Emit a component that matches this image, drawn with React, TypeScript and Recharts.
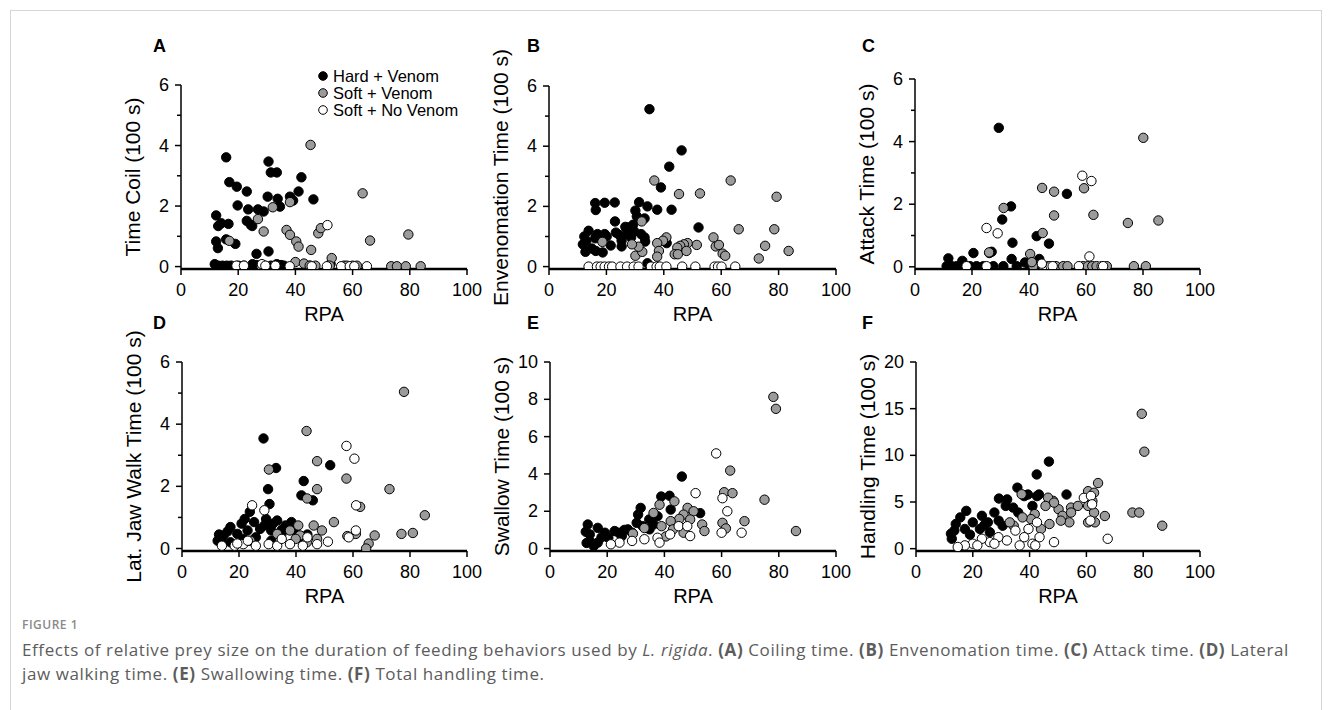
import React from 'react';
import { ScatterChart, Scatter, XAxis, YAxis } from 'recharts';

// values, [RPA, time (100 s)]
const coilHard = [
  [15.8, 3.61], [16.9, 2.79], [19.5, 2.64], [23.0, 2.48], [19.8, 2.02], [12.3, 1.69], [13.0, 1.34], [14.1, 1.43],
  [16.6, 1.41], [12.3, 0.83], [12.9, 0.61], [15.8, 0.9], [19.0, 0.75], [23.0, 1.51], [23.5, 1.89], [24.4, 1.38],
  [24.9, 1.34], [26.4, 0.42], [26.9, 1.89], [28.9, 1.82], [30.6, 3.47], [31.4, 3.11], [33.5, 3.11], [30.3, 2.31],
  [30.6, 0.5], [33.8, 2.24], [34.6, 1.98], [38.1, 2.31], [39.2, 2.18], [41.1, 2.48], [42.1, 2.95], [46.3, 2.22],
  [52.3, 0.09], [11.8, 0.08], [13.0, 0.03], [14.5, 0.03], [16.0, 0.03], [17.5, 0.03], [20.0, 0.03], [22.0, 0.03],
  [25.0, 0.08], [26.5, 0.05], [29.0, 0.03], [31.5, 0.03], [33.5, 0.08], [35.0, 0.05], [36.0, 0.03], [45.0, 0.03],
];
const coilSoft = [
  [45.3, 4.02], [63.5, 2.42], [32.1, 1.96], [38.1, 2.13], [26.9, 1.57], [28.9, 1.16], [36.9, 1.21], [38.1, 1.05],
  [40.3, 0.83], [41.1, 0.66], [45.5, 0.55], [48.0, 1.1], [48.9, 1.27], [52.7, 0.28], [66.1, 0.86], [79.5, 1.06],
  [16.9, 0.85], [28.0, 0.03], [40.0, 0.15], [43.0, 0.1], [45.0, 0.03], [47.0, 0.03], [52.0, 0.03], [57.0, 0.03],
  [58.0, 0.03], [60.0, 0.03], [61.5, 0.03], [73.5, 0.01], [75.5, 0.01], [78.6, 0.01], [83.8, 0.01],
];
const coilNoVenom = [
  [51.2, 1.37], [19.4, 0.03], [22.0, 0.03], [28.3, 0.08], [29.5, 0.03], [33.0, 0.03], [38.0, 0.01], [45.7, 0.01],
  [51.0, 0.01], [56.0, 0.01], [59.0, 0.01], [60.6, 0.01], [65.0, 0.01],
];

const envHard = [
  [35.0, 5.23], [46.2, 3.86], [41.9, 3.32], [39.0, 2.63], [37.7, 1.89], [42.7, 1.89], [34.3, 2.0], [31.4, 2.14],
  [30.1, 1.86], [30.6, 1.67], [33.3, 1.6], [22.9, 2.13], [19.4, 2.12], [16.1, 2.11], [16.3, 1.88], [23.0, 1.5],
  [23.3, 1.13], [16.9, 1.08], [19.4, 1.08], [20.1, 1.0], [13.8, 1.19], [12.3, 1.0], [11.8, 0.74], [12.7, 0.49],
  [14.9, 0.6], [16.3, 0.52], [18.7, 0.47], [16.1, 0.94], [25.3, 0.86], [25.3, 0.67], [26.6, 1.32], [27.8, 1.3],
  [29.3, 1.39], [29.7, 1.17], [27.2, 1.08], [28.6, 0.97], [32.1, 1.08], [33.3, 0.97], [33.5, 0.83], [41.0, 0.78],
  [52.1, 1.3], [34.3, 0.11], [24.5, 1.05], [21.5, 0.7], [13.0, 0.85],
];
const envSoft = [
  [36.7, 2.86], [45.3, 2.41], [52.6, 2.43], [63.3, 2.86], [79.3, 2.32], [66.1, 1.24], [78.5, 1.24], [75.3, 0.69],
  [83.5, 0.52], [73.1, 0.27], [57.3, 0.97], [58.1, 0.67], [59.2, 0.72], [60.5, 0.43], [61.4, 0.36], [51.5, 0.72],
  [48.3, 0.78], [47.0, 0.74], [45.7, 0.69], [44.7, 0.63], [43.8, 0.41], [44.9, 0.41], [47.9, 0.52], [40.9, 0.97],
  [39.7, 0.86], [37.7, 0.78], [38.3, 0.52], [37.7, 0.33], [30.1, 0.36], [32.5, 0.49], [31.2, 0.66], [18.6, 0.82],
  [32.3, 1.5], [28.9, 0.74],
];
const envNoVenom = [
  [13.8, 0], [16.7, 0], [18.0, 0], [19.4, 0], [20.9, 0], [22.0, 0], [24.9, 0], [27.2, 0], [29.5, 0], [31.2, 0],
  [35.5, 0], [37.5, 0], [38.6, 0], [40.9, 0], [46.4, 0], [51.0, 0], [57.7, 0], [58.9, 0], [60.1, 0], [64.9, 0],
];

const atkHard = [
  [29.4, 4.44], [33.7, 1.93], [30.6, 1.51], [53.3, 2.33], [34.2, 0.77], [42.7, 0.98], [47.0, 0.74], [26.9, 0.48],
  [26.1, 0.44], [20.5, 0.44], [11.7, 0.27], [16.6, 0.19], [33.9, 0.25], [43.6, 0.25], [38.6, 0.14], [11.1, 0.02],
  [12.9, 0.02], [14.6, 0.02], [17.0, 0.02], [19.3, 0.02], [21.6, 0.02], [24.0, 0.02], [27.5, 0.02], [31.0, 0.02],
  [35.7, 0.02], [40.4, 0.02], [43.9, 0.02],
];
const atkSoft = [
  [80.1, 4.12], [44.6, 2.52], [48.8, 2.4], [59.3, 2.51], [62.6, 1.66], [48.8, 1.64], [74.7, 1.4], [85.4, 1.48],
  [31.1, 1.88], [44.8, 1.08], [40.4, 0.41], [26.0, 0.46], [41.5, 0.02], [46.8, 0.02], [49.5, 0.02], [52.0, 0.02],
  [53.5, 0.02], [59.0, 0.02], [60.6, 0.02], [62.2, 0.02], [63.7, 0.02], [67.3, 0.02], [76.8, 0.02], [81.0, 0.02],
  [41.0, 0.15],
];
const atkNoVenom = [
  [58.7, 2.91], [61.9, 2.74], [25.1, 1.24], [29.0, 1.07], [61.2, 0.33], [18.1, 0.02], [25.1, 0.02], [45.0, 0.02],
  [47.6, 0.02], [48.3, 0.02], [57.5, 0.02], [65.5, 0.02], [66.0, 0.02], [44.5, 0.1],
];

const jawHard = [
  [28.6, 3.54], [52.0, 2.68], [33.0, 2.59], [42.7, 2.17], [30.2, 1.91], [41.9, 1.71], [45.9, 1.55], [30.7, 1.43],
  [23.8, 1.18], [12.5, 0.25], [14.6, 0.42], [17.0, 0.69], [19.4, 0.47], [20.9, 0.8], [23.0, 0.58], [25.3, 0.85],
  [27.4, 0.63], [31.3, 0.58], [33.4, 0.9], [36.3, 0.74], [38.4, 0.85], [39.4, 0.58], [34.9, 0.47], [41.4, 0.36],
  [31.3, 0.25], [25.9, 0.36], [17.0, 0.2], [21.5, 0.31], [14.0, 0.2], [28.9, 0.74], [31.9, 0.8], [13.0, 0.45],
  [16.0, 0.55], [22.0, 0.95], [35.0, 0.6], [29.5, 0.95], [44.0, 0.45],
];
const jawSoft = [
  [77.9, 5.04], [43.7, 3.78], [47.4, 2.81], [30.5, 2.54], [57.7, 2.25], [47.4, 1.91], [72.8, 1.91], [43.9, 1.61],
  [62.5, 1.34], [85.2, 1.07], [77.0, 0.47], [81.0, 0.5], [53.3, 0.85], [61.0, 0.47], [67.6, 0.42], [65.5, 0.16],
  [64.6, 0.0], [46.2, 0.74], [49.1, 0.58], [47.4, 0.31], [41.4, 0.42], [37.9, 0.58], [40.8, 0.74], [39.9, 0.31],
  [43.8, 0.2], [33.4, 0.47], [24.0, 0.25], [58.0, 0.4],
];
const jawNoVenom = [
  [57.7, 3.3], [60.5, 2.89], [24.6, 1.39], [61.1, 1.39], [28.9, 1.23], [61.0, 0.58], [58.5, 0.36], [51.2, 0.22],
  [47.4, 0.14], [14.0, 0.09], [18.5, 0.09], [21.5, 0.14], [25.9, 0.09], [30.4, 0.14], [33.4, 0.09], [37.9, 0.14],
  [42.4, 0.09], [23.1, 0.25], [35.0, 0.31], [44.0, 0.36], [19.4, 0.16],
];

const swHard = [
  [46.1, 3.86], [38.9, 2.79], [41.8, 2.83], [31.7, 2.18], [30.8, 1.82], [34.7, 1.56], [42.2, 2.09], [37.6, 1.73],
  [36.2, 1.29], [30.3, 1.38], [27.2, 1.03], [22.6, 0.94], [19.2, 0.85], [16.7, 1.11], [13.9, 0.76], [13.2, 1.29],
  [13.9, 0.41], [16.7, 0.32], [20.4, 0.58], [25.1, 0.67], [28.7, 0.85], [32.4, 1.2], [34.8, 1.03], [15.3, 0.14],
  [12.5, 0.9], [12.8, 0.3], [18.0, 0.6], [24.0, 0.85], [26.0, 1.0], [52.5, 1.9],
];
const swSoft = [
  [78.1, 8.13], [79.0, 7.49], [63.0, 4.18], [60.9, 3.02], [75.0, 2.62], [63.8, 2.97], [38.3, 2.35], [43.5, 2.53],
  [48.1, 2.18], [50.2, 2.0], [46.7, 1.82], [49.0, 1.56], [53.2, 1.29], [54.0, 0.94], [45.2, 1.59], [42.2, 1.47],
  [39.0, 1.2], [43.0, 1.03], [46.7, 0.85], [60.3, 1.38], [61.5, 1.08], [68.0, 1.47], [86.0, 0.94], [36.2, 1.91],
  [33.0, 1.1], [29.0, 0.8], [40.5, 0.65],
];
const swNoVenom = [
  [58.1, 5.1], [50.9, 2.97], [60.3, 2.7], [62.0, 2.0], [67.0, 0.85], [60.0, 0.85], [49.0, 0.67], [45.0, 1.2],
  [42.0, 0.76], [37.6, 0.58], [38.3, 0.32], [33.0, 0.5], [28.7, 0.41], [24.3, 0.32], [21.3, 0.23], [48.0, 1.2],
];

const hdHard = [
  [46.8, 9.33], [42.5, 7.95], [35.7, 6.54], [39.4, 5.8], [43.3, 5.8], [53.0, 5.8], [29.2, 5.37], [17.7, 4.05],
  [15.6, 3.35], [14.0, 2.64], [13.5, 1.94], [12.6, 1.06], [17.2, 2.11], [20.0, 2.82], [23.2, 3.52], [25.3, 2.82],
  [27.6, 3.87], [29.1, 3.0], [31.6, 4.58], [32.1, 5.28], [34.2, 4.4], [36.0, 3.87], [30.5, 2.46], [22.5, 2.11],
  [26.0, 1.76], [42.6, 5.63], [41.0, 4.58], [38.1, 5.63], [12.3, 1.6], [19.0, 1.5], [24.0, 2.5],
];
const hdSoft = [
  [79.5, 14.45], [80.4, 10.39], [64.1, 7.03], [37.2, 5.83], [48.3, 5.12], [62.1, 5.09], [54.6, 4.4], [50.2, 4.23],
  [46.5, 5.46], [48.6, 4.93], [51.6, 3.52], [54.6, 3.87], [60.6, 6.16], [62.7, 5.99], [60.6, 4.58], [62.7, 3.87],
  [66.5, 3.5], [76.2, 3.87], [78.6, 3.87], [86.7, 2.46], [60.6, 2.82], [63.0, 2.82], [57.0, 4.58], [54.0, 2.82],
  [51.0, 3.0], [47.0, 2.64], [44.0, 2.11], [41.8, 3.7], [40.5, 3.17], [37.5, 3.35], [34.4, 2.46], [45.6, 4.58],
  [33.0, 2.82],
];
const hdNoVenom = [
  [59.1, 5.44], [61.6, 5.65], [62.0, 4.75], [61.4, 3.0], [67.5, 1.06], [48.6, 0.7], [43.5, 1.23], [42.6, 2.82],
  [39.6, 2.11], [38.1, 1.23], [35.0, 1.94], [32.0, 0.88], [29.0, 1.23], [26.0, 0.7], [23.2, 1.06], [20.0, 0.53],
  [17.2, 0.35], [14.7, 0.18], [21.6, 0.35], [27.6, 0.53], [36.5, 0.35], [41.0, 0.53], [42.0, 0.35],
];

const rpaTicks = [0, 20, 40, 60, 80, 100];
const ticks6 = [0, 1, 2, 3, 4, 5, 6];
const ticks10 = [0, 2, 4, 6, 8, 10];
const ticks20 = [0, 5, 10, 15, 20];
const groupNames = ['Hard + Venom', 'Soft + Venom', 'Soft + No Venom'];
const groupFills = ['#000000', '#9b9b9b', '#ffffff'];

const FONT = 'Arial, "Liberation Sans", Helvetica, sans-serif';
const PAD_L = 90;
const PAD_T = 50;
const PAD_R = 20;
const PAD_B = 65;

const panels = [
  { letter: 'A', title: 'Time Coil (100 s)', series: [coilHard, coilSoft, coilNoVenom], ticks: ticks6, major: 2, yMin: -0.08, yMax: 6, left: 181, top: 85, w: 286, h: 184 },
  { letter: 'B', title: 'Envenomation Time (100 s)', series: [envHard, envSoft, envNoVenom], ticks: ticks6, major: 2, yMin: -0.08, yMax: 6, left: 549, top: 86, w: 287, h: 183 },
  { letter: 'C', title: 'Attack Time (100 s)', series: [atkHard, atkSoft, atkNoVenom], ticks: ticks6, major: 2, yMin: -0.07, yMax: 6, left: 915, top: 79, w: 285, h: 190 },
  { letter: 'D', title: 'Lat. Jaw Walk Time (100 s)', series: [jawHard, jawSoft, jawNoVenom], ticks: ticks6, major: 2, yMin: -0.08, yMax: 6, left: 182, top: 362, w: 285, h: 189 },
  { letter: 'E', title: 'Swallow Time (100 s)', series: [swHard, swSoft, swNoVenom], ticks: ticks10, major: 2, yMin: -0.13, yMax: 10, left: 550, top: 362, w: 286, h: 189 },
  { letter: 'F', title: 'Handling Time (100 s)', series: [hdHard, hdSoft, hdNoVenom], ticks: ticks20, major: 5, yMin: -0.25, yMax: 20, left: 916, top: 362, w: 284, h: 189 },
];

const toPoints = (arr: number[][]) => arr.map(([rpa, t]) => ({ rpa, t }));

const Dot = (props: any) => (
  <circle cx={props.cx} cy={props.cy} r={4.7} fill={props.fill} stroke="#000" strokeWidth={1} />
);

const XTitle = ({ cx, cy }: any) => (
  <text x={cx} y={cy} textAnchor="middle" dominantBaseline="central" fontSize={20} fontFamily={FONT} fill="#000">
    RPA
  </text>
);

const YTitle = ({ cx, cy, text }: any) => (
  <text x={cx} y={cy} transform={`rotate(-90 ${cx} ${cy})`} textAnchor="middle" dominantBaseline="central"
    fontSize={21} fontFamily={FONT} fill="#000">
    {text}
  </text>
);

function Panel({ p }: any) {
  const axisY = PAD_T + p.h;

  const xTick = ({ x, payload }: any) => (
    <g>
      <line x1={x} x2={x} y1={axisY} y2={axisY + 6} stroke="#000" strokeWidth={1.5} />
      <text x={x} y={axisY + 21} textAnchor="middle" dominantBaseline="central" fontSize={18} fontFamily={FONT} fill="#000">
        {payload.value}
      </text>
    </g>
  );

  const yTick = ({ y, payload }: any) => {
    const isMajor = payload.value % p.major === 0;
    return (
      <g>
        <line x1={PAD_L - (isMajor ? 6 : 4)} x2={PAD_L} y1={y} y2={y} stroke="#000" strokeWidth={1.5} />
        {isMajor && (
          <text x={PAD_L - 12} y={y} textAnchor="end" dominantBaseline="central" fontSize={18} fontFamily={FONT} fill="#000">
            {payload.value}
          </text>
        )}
      </g>
    );
  };

  return (
    <div style={{ position: 'absolute', left: p.left - PAD_L, top: p.top - PAD_T }}>
      <ScatterChart
        width={p.w + PAD_L + PAD_R}
        height={p.h + PAD_T + PAD_B}
        margin={{ top: PAD_T, right: PAD_R, bottom: 0, left: 0 }}
      >
        <XAxis
          type="number"
          dataKey="rpa"
          domain={[0, 100]}
          ticks={rpaTicks}
          interval={0}
          height={PAD_B}
          tickLine={false}
          axisLine={{ stroke: '#000', strokeWidth: 2.6 }}
          tick={xTick}
          label={<XTitle cx={PAD_L + p.w / 2} cy={axisY + 45} />}
        />
        <YAxis
          type="number"
          dataKey="t"
          domain={[p.yMin, p.yMax]}
          allowDataOverflow
          ticks={p.ticks}
          interval={0}
          width={PAD_L}
          tickLine={false}
          axisLine={{ stroke: '#000', strokeWidth: 1.5 }}
          tick={yTick}
          label={<YTitle cx={PAD_L - 49} cy={PAD_T + p.h / 2} text={p.title} />}
        />
        {p.series.map((s: number[][], i: number) => (
          <Scatter
            key={groupNames[i]}
            name={groupNames[i]}
            data={toPoints(s)}
            fill={groupFills[i]}
            shape={Dot}
            isAnimationActive={false}
          />
        ))}
      </ScatterChart>
    </div>
  );
}

const letterPos = [
  { left: 153, top: 46 }, { left: 527, top: 46 }, { left: 862, top: 46 },
  { left: 153, top: 323 }, { left: 527, top: 323 }, { left: 862, top: 323 },
];

export default function App() {
  return (
    <div style={{ position: 'absolute', left: 0, top: 0, width: 1331, height: 710, background: '#fff', overflow: 'hidden' }}>
      <div style={{ position: 'absolute', left: 10, top: 10, width: 1310, height: 760, border: '1px solid #d6d6d6' }} />
      {panels.map((p) => (
        <Panel key={p.letter} p={p} />
      ))}
      {panels.map((p, i) => (
        <div key={'l' + p.letter} style={{
          position: 'absolute', left: letterPos[i].left, top: letterPos[i].top - 11,
          fontFamily: FONT, fontWeight: 700, fontSize: 18, lineHeight: '22px',
        }}>
          {p.letter}
        </div>
      ))}
      <svg style={{ position: 'absolute', left: 310, top: 66 }} width={170} height={56}>
        {groupNames.map((n, i) => (
          <g key={n}>
            <circle cx={13} cy={10 + i * 17} r={4.3} fill={groupFills[i]} stroke="#000" strokeWidth={1} />
            <text x={23} y={10 + i * 17} dominantBaseline="central" fontSize={16.5} fontFamily={FONT} fill="#000">{n}</text>
          </g>
        ))}
      </svg>
      <div style={{
        position: 'absolute', left: 22, top: 616, fontFamily: '"Open Sans", sans-serif', fontSize: 12,
        fontWeight: 600, color: '#8a8a8a', letterSpacing: 0.5,
      }}>
        FIGURE 1
      </div>
      <div style={{
        position: 'absolute', left: 22, top: 638, fontFamily: '"Open Sans", sans-serif', fontSize: 17,
        letterSpacing: 0.6, lineHeight: '24px', color: '#5c5c5c', whiteSpace: 'nowrap',
      }}>
        Effects of relative prey size on the duration of feeding behaviors used by <i>L. rigida</i>.{' '}
        <b>(A)</b> Coiling time. <b>(B)</b> Envenomation time. <b>(C)</b> Attack time. <b>(D)</b> Lateral
        <br />
        jaw walking time. <b>(E)</b> Swallowing time. <b>(F)</b> Total handling time.
      </div>
    </div>
  );
}
